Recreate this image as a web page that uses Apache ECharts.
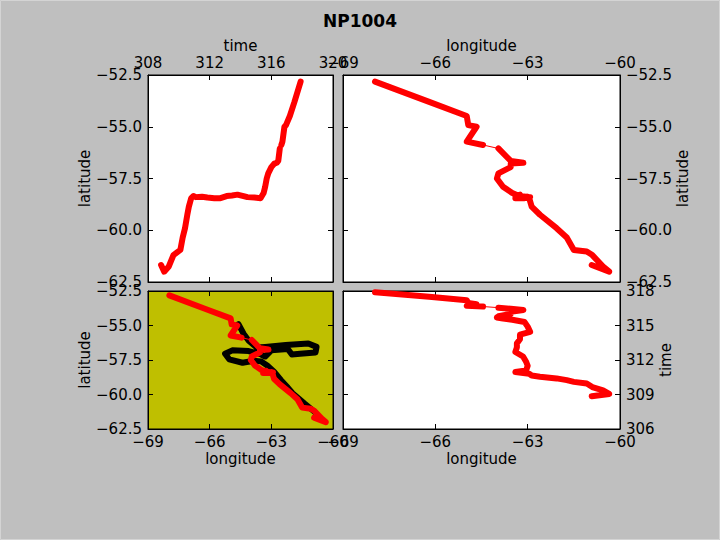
<!DOCTYPE html>
<html>
<head>
<meta charset="utf-8">
<script src="https://cdn.jsdelivr.net/npm/echarts@6/dist/echarts.min.js"></script>
<style>
html,body{margin:0;padding:0;background:#bfbfbf;}
#c{width:720px;height:540px;}
</style>
</head>
<body>
<div id="c"></div>
<script>
// ---- Data: red track (NP1004), first segment (before data gap) ----
const redTimeA = [308.85, 309.05, 309.35, 309.65, 309.95, 310.10, 310.25, 310.40, 310.55, 310.65, 310.80, 310.95, 311.10, 311.50, 311.85, 312.30, 312.70, 313.10, 313.45, 313.80, 314.20, 314.45, 314.90, 315.30, 315.50, 315.60, 315.70, 315.80, 316.00, 316.20, 316.35, 316.45, 316.55];
const redLonA  = [-60.92, -60.35, -60.55, -60.90, -61.08, -61.50, -61.73, -62.06, -62.60, -62.87, -62.95, -63.40, -63.05, -63.00, -63.05, -63.15, -63.40, -63.35, -63.35, -63.25, -63.25, -62.92, -63.00, -63.10, -63.50, -63.80, -64.00, -63.95, -63.55, -63.55, -63.14, -63.55, -63.95];
const redLatA  = [-61.68, -62.00, -61.75, -61.20, -61.03, -60.95, -60.35, -59.90, -59.25, -58.86, -58.45, -58.35, -58.40, -58.38, -58.42, -58.45, -58.45, -58.35, -58.32, -58.28, -58.35, -58.40, -58.42, -58.45, -58.20, -57.90, -57.50, -57.25, -56.95, -56.78, -56.74, -56.65, -56.05];
// second segment (after data gap)
const redTimeB = [316.65, 316.72, 316.85, 316.95, 317.20, 317.50, 317.90];
const redLonB  = [-64.45, -64.98, -64.66, -64.93, -64.98, -66.20, -67.96];
const redLatB  = [-55.88, -55.72, -55.00, -54.92, -54.48, -53.80, -52.82];
// black comparison track (bottom-left panel)
const blackLon = [-64.60, -64.35, -64.10, -63.70, -63.30, -62.30, -61.20, -60.80, -60.85, -61.60, -62.00, -62.20, -63.00, -63.30, -63.50, -64.10, -64.90, -65.25, -65.05, -64.40, -63.85, -63.50, -63.20, -62.87, -62.54, -62.20, -61.97, -61.40, -60.90];
const blackLat = [-54.90, -55.60, -56.10, -56.60, -56.55, -56.42, -56.30, -56.55, -56.95, -57.05, -57.10, -56.70, -56.80, -57.25, -57.10, -56.85, -56.80, -57.05, -57.45, -57.70, -57.55, -57.60, -57.90, -58.35, -58.95, -59.50, -59.91, -60.64, -61.25];
// axis ranges / ticks
const timeTopTicks = [308, 312, 316, 320];
const timeRightTicks = [306, 309, 312, 315, 318];
const lonTicks = [-69, -66, -63, -60];
const latTicks = [-62.5, -60.0, -57.5, -55.0, -52.5];
const titleText = 'NP1004';

// ---- Build ----
const FONT = 'DejaVu Sans';
const minus = s => String(s).replace('-', '\u2212');
const fmtLat = v => minus(v.toFixed(1));
const fmtInt = v => minus(Math.round(v));

function axisDef(gridIndex, position, ticks, showLabel, fmt, name, nameGap, margin) {
  const min = ticks[0], max = ticks[ticks.length - 1];
  return {
    type: 'value', gridIndex, position, min, max,
    interval: ticks[1] - ticks[0],
    axisLine: {show: true, onZero: false, lineStyle: {color: '#000', width: 1}},
    axisTick: {show: true, inside: true, length: 5, lineStyle: {color: '#000', width: 1}},
    splitLine: {show: false},
    axisLabel: {show: showLabel, color: '#000', fontSize: 15, fontFamily: FONT, margin: margin, formatter: fmt,
      showMinLabel: true, showMaxLabel: true, hideOverlap: false},
    name: showLabel ? name : '', nameLocation: 'middle', nameGap: nameGap,
    nameTextStyle: {color: '#000', fontSize: 15, fontFamily: FONT}
  };
}

const grids = [
  {left: 148, top: 75, width: 185, height: 207, backgroundColor: '#ffffff'},
  {left: 343, top: 75, width: 277, height: 207, backgroundColor: '#ffffff'},
  {left: 148, top: 291, width: 185, height: 138, backgroundColor: '#bfbf00'},
  {left: 343, top: 291, width: 277, height: 138, backgroundColor: '#ffffff'}
].map(g => Object.assign({show: true, borderColor: '#000', borderWidth: 1, containLabel: false}, g));

const xAxes = [
  axisDef(0, 'top', timeTopTicks, true, fmtInt, 'time', 22, 5),
  axisDef(0, 'bottom', timeTopTicks, false, fmtInt, '', 0, 5),
  axisDef(1, 'top', lonTicks, true, fmtInt, 'longitude', 22, 5),
  axisDef(1, 'bottom', lonTicks, false, fmtInt, '', 0, 5),
  axisDef(2, 'top', lonTicks, false, fmtInt, '', 0, 5),
  axisDef(2, 'bottom', lonTicks, true, fmtInt, 'longitude', 22, 5),
  axisDef(3, 'top', lonTicks, false, fmtInt, '', 0, 5),
  axisDef(3, 'bottom', lonTicks, true, fmtInt, 'longitude', 22, 5)
];
const yAxes = [
  axisDef(0, 'left', latTicks, true, fmtLat, 'latitude', 54, 6),
  axisDef(0, 'right', latTicks, false, fmtLat, '', 0, 6),
  axisDef(1, 'left', latTicks, false, fmtLat, '', 0, 6),
  axisDef(1, 'right', latTicks, true, fmtLat, 'latitude', 53, 6),
  axisDef(2, 'left', latTicks, true, fmtLat, 'latitude', 54, 6),
  axisDef(2, 'right', latTicks, false, fmtLat, '', 0, 6),
  axisDef(3, 'left', timeRightTicks, false, fmtInt, '', 0, 6),
  axisDef(3, 'right', timeRightTicks, true, fmtInt, 'time', 35, 6)
];

const zip = (a, b) => a.map((v, i) => [v, b[i]]);
function redSeries(xi, yi, xa, xb, ya, yb) {
  const base = {type: 'line', xAxisIndex: xi, yAxisIndex: yi, symbol: 'none', showSymbol: false,
    animation: false, silent: true, clip: true};
  return [
    Object.assign({}, base, {data: zip(xa.concat(xb), ya.concat(yb)), lineStyle: {color: '#ff0000', width: 1}}),
    Object.assign({}, base, {data: zip(xa, ya), lineStyle: {color: '#ff0000', width: 6, cap: 'round', join: 'round'}}),
    Object.assign({}, base, {data: zip(xb, yb), lineStyle: {color: '#ff0000', width: 6, cap: 'round', join: 'round'}})
  ];
}

const series = [].concat(
  redSeries(0, 0, redTimeA, redTimeB, redLatA, redLatB),
  redSeries(3, 3, redLonA, redLonB, redLatA, redLatB),
  [{type: 'line', xAxisIndex: 5, yAxisIndex: 4, symbol: 'none', showSymbol: false, animation: false, silent: true,
    data: zip(blackLon, blackLat), lineStyle: {color: '#000000', width: 6, cap: 'round', join: 'round'}}],
  redSeries(5, 4, redLonA, redLonB, redLatA, redLatB),
  redSeries(7, 7, redLonA, redLonB, redTimeA, redTimeB)
);

const chart = echarts.init(document.getElementById('c'), null, {renderer: 'svg', width: 720, height: 540});
chart.setOption({
  backgroundColor: '#bfbfbf',
  animation: false,
  grid: grids,
  xAxis: xAxes,
  yAxis: yAxes,
  series: series,
  graphic: [
    {type: 'rect', shape: {x: 0.5, y: 0.5, width: 719, height: 539}, style: {fill: 'none', stroke: '#d4d4d4', lineWidth: 1}, silent: true},
    {type: 'text', x: 360, y: 21, style: {text: titleText, fill: '#000', font: 'bold 17px "DejaVu Sans"',
      textAlign: 'center', textVerticalAlign: 'middle'}}
  ]
});
</script>
</body>
</html>
